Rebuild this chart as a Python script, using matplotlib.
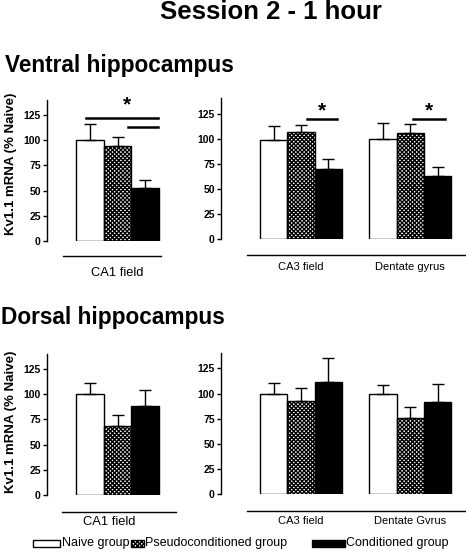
import matplotlib
matplotlib.use("Agg")
import matplotlib.pyplot as plt
from matplotlib.patches import Rectangle

plt.rcParams['font.family'] = ['Liberation Sans', 'DejaVu Sans']
plt.rcParams['hatch.linewidth'] = 1.0

groups = ["Naive group", "Pseudoconditioned group", "Conditioned group"]

# Ventral hippocampus
v_ca1 = [100, 94, 53]
v_ca1_err = [16, 9, 8]
v_ca3 = [99, 107, 70]
v_ca3_err = [14, 7, 10]
v_dg = [100, 106, 63]
v_dg_err = [16, 9, 9]

# Dorsal hippocampus
d_ca1 = [100, 69, 88]
d_ca1_err = [11, 10, 16]
d_ca3 = [100, 93, 112]
d_ca3_err = [11, 13, 23]
d_dg = [100, 76, 92]
d_dg_err = [9, 11, 18]

yticks = [0, 25, 50, 75, 100, 125]

W, H = 466, 560
fig = plt.figure(figsize=(W / 100, H / 100), dpi=100)


def px_axes(x0, x1, ybot, ytop):
    return fig.add_axes([x0 / W, 1 - ybot / H, (x1 - x0) / W, (ybot - ytop) / H])


face = ['white', 'white', 'black']
hatch = [None, 'xxxxxxxx', None]


def draw_bars(ax, positions, vals, errs):
    for p, v, e, fc, h in zip(positions, vals, errs, face, hatch):
        ax.bar(p, v, width=1.0, color=fc, edgecolor='black', linewidth=1.0,
               hatch=h, zorder=2)
        ax.errorbar(p, v, yerr=[[0], [e]], fmt='none', ecolor='black',
                    elinewidth=1.0, capsize=4.5, capthick=1.0, zorder=3)


def style(ax, xlim):
    ax.set_xlim(*xlim)
    ax.set_ylim(0, 140)
    for s in ['top', 'right', 'bottom']:
        ax.spines[s].set_visible(False)
    ax.spines['left'].set_linewidth(1.0)
    ax.spines['left'].set_bounds(0, 140)
    ax.set_xticks([])
    ax.set_yticks(yticks)
    ax.tick_params(axis='y', length=3, width=1.0, pad=1.5, labelsize=7.5)
    for t in ax.get_yticklabels():
        t.set_fontweight('bold')


def underline(ax, x0, x1, y):
    ax.plot([x0, x1], [y, y], color='black', lw=1.0, clip_on=False)


def sigline(ax, x0, x1, y):
    ax.plot([x0, x1], [y, y], color='black', lw=1.8, clip_on=False, zorder=4)


def star(ax, x, y):
    ax.text(x, y, '*', ha='center', va='center', fontsize=15,
            fontweight='bold', clip_on=False)


left_lim = (-1.55, 2.75)
right_lim = (-1.92, 7.0)
pos1 = [0, 1, 2]
pos2 = [4, 5, 6]

# ---------------- Ventral ----------------
ax = px_axes(47, 166, 241, 100)
draw_bars(ax, pos1, v_ca1, v_ca1_err)
style(ax, left_lim)
underline(ax, -0.97, 2.57, -15)
ax.text(1, -31.5, 'CA1 field', ha='center', va='center', fontsize=9.3)
sigline(ax, -0.14, 2.46, 122.5)
sigline(ax, 1.38, 2.46, 113)
star(ax, 1.35, 135)
ax.set_ylabel('Kv1.1 mRNA (% Naive)', fontsize=9.5, fontweight='bold')
ax.yaxis.set_label_coords(-0.255, 0.55)

ax = px_axes(221, 465, 239.5, 98.5)
draw_bars(ax, pos1, v_ca3, v_ca3_err)
draw_bars(ax, pos2, v_dg, v_dg_err)
style(ax, right_lim)
underline(ax, -0.97, 7.2, -15.4)
ax.text(1, -27.3, 'CA3 field', ha='center', va='center', fontsize=8)
ax.text(5, -27.3, 'Dentate gyrus', ha='center', va='center', fontsize=8)
sigline(ax, 1.22, 2.32, 120)
sigline(ax, 5.09, 6.26, 120)
star(ax, 1.77, 128)
star(ax, 5.67, 128)

# ---------------- Dorsal ----------------
ax = px_axes(47, 166, 495, 354)
draw_bars(ax, pos1, d_ca1, d_ca1_err)
style(ax, left_lim)
underline(ax, -1.0, 3.1, -16.6)
ax.text(0.7, -26.8, 'CA1 field', ha='center', va='center', fontsize=9.3)
ax.set_ylabel('Kv1.1 mRNA (% Naive)', fontsize=9.5, fontweight='bold')
ax.yaxis.set_label_coords(-0.255, 0.52)

ax = px_axes(221, 465, 494.3, 353.3)
draw_bars(ax, pos1, d_ca3, d_ca3_err)
draw_bars(ax, pos2, d_dg, d_dg_err)
style(ax, right_lim)
underline(ax, -0.97, 7.2, -16.4)
ax.text(1, -26.2, 'CA3 field', ha='center', va='center', fontsize=8)
ax.text(5, -26.2, 'Dentate Gvrus', ha='center', va='center', fontsize=8)

# ---------------- Titles ----------------
fig.text(271 / W, 1 - 12 / H, 'Session 2 - 1 hour', ha='center', va='center',
         fontsize=18.5, fontweight='bold')
fig.text(5 / W, 1 - 72 / H, 'Ventral hippocampus', ha='left', va='baseline',
         fontsize=16.3, fontweight='bold')
fig.text(1 / W, 1 - 324 / H, 'Dorsal hippocampus', ha='left', va='baseline',
         fontsize=16.3, fontweight='bold')

# ---------------- Legend ----------------
leg_y = 543
boxes = [(33, 27), (131, 12.5), (312, 33)]
for (bx, bw), fc, h, lab in zip(boxes, face, hatch, groups):
    fig.patches.append(Rectangle((bx / W, 1 - (leg_y + 3.5) / H), bw / W, 7 / H,
                                 transform=fig.transFigure, facecolor=fc,
                                 edgecolor='black', linewidth=1.0, hatch=h))
    fig.text((bx + bw + 1.5) / W, 1 - leg_y / H, lab, ha='left', va='center',
             fontsize=9)

fig.savefig('out.png', dpi=100)
